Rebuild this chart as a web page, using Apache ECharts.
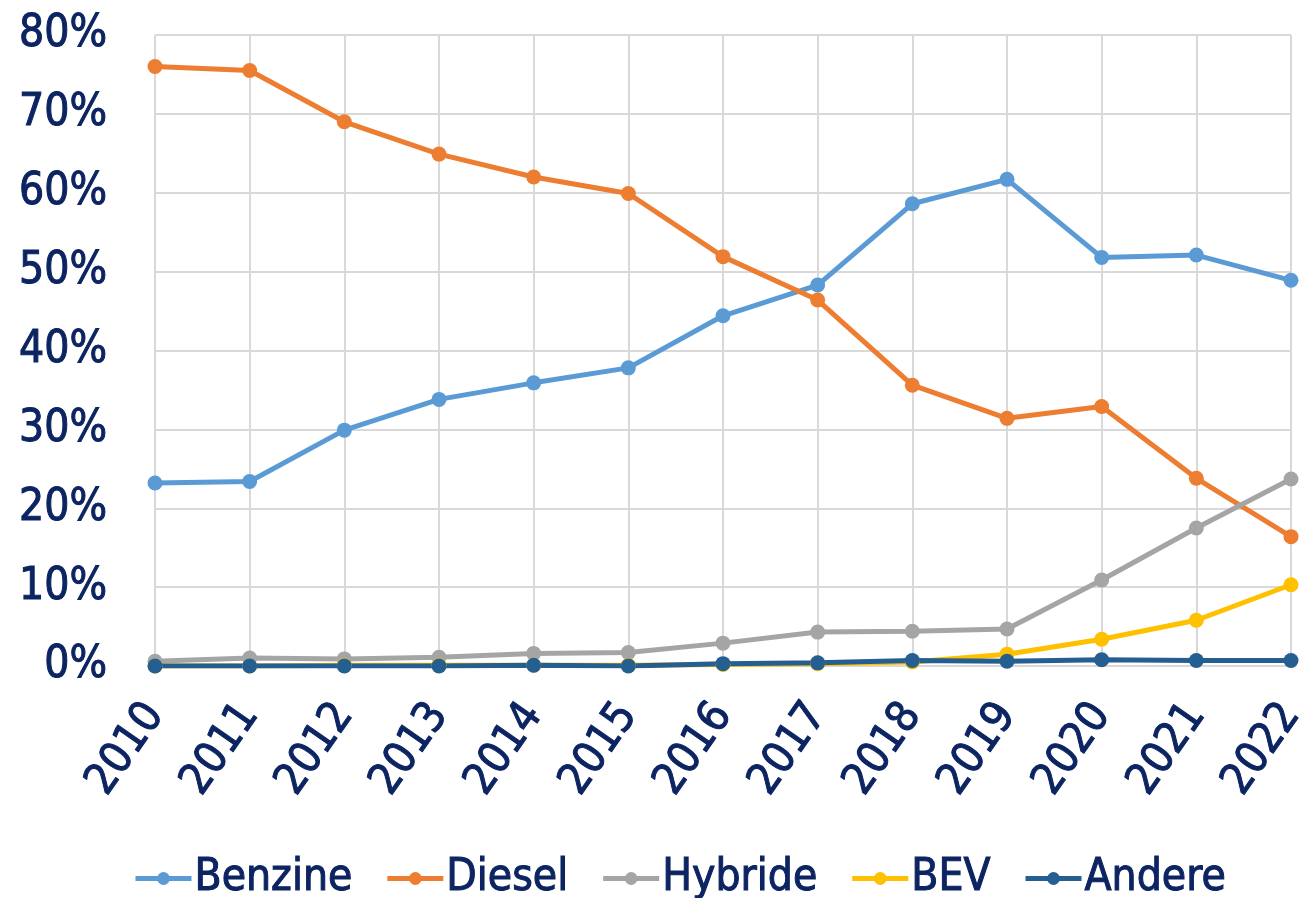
<!DOCTYPE html>
<html>
<head>
<meta charset="utf-8">
<script src="https://cdn.jsdelivr.net/npm/echarts@6/dist/echarts.min.js"></script>
<style>
  html, body { margin: 0; padding: 0; background: #fff; }
  #chart { width: 1304px; height: 898px; }
</style>
</head>
<body>
<div id="chart"></div>
<script>
// years on the x axis
const years = ['2010', '2011', '2012', '2013', '2014', '2015', '2016', '2017', '2018', '2019', '2020', '2021', '2022'];

// share of new cars per fuel type, in %
const benzine = [23.2, 23.4, 29.9, 33.8, 35.9, 37.8, 44.4, 48.3, 58.6, 61.7, 51.8, 52.1, 48.9];
const diesel  = [76.0, 75.5, 69.0, 64.9, 62.0, 59.9, 51.9, 46.4, 35.6, 31.4, 32.9, 23.8, 16.4];
const hybride = [0.6, 1.0, 0.9, 1.1, 1.6, 1.7, 2.9, 4.3, 4.4, 4.7, 10.9, 17.5, 23.7];
const bev     = [0.0, 0.0, 0.1, 0.1, 0.1, 0.1, 0.2, 0.3, 0.5, 1.5, 3.4, 5.8, 10.3];
const andere  = [0.0, 0.0, 0.0, 0.0, 0.1, 0.0, 0.3, 0.4, 0.7, 0.6, 0.8, 0.7, 0.7];

const yTicks = [0, 10, 20, 30, 40, 50, 60, 70, 80];

const textColor = '#0C2461';
const font = '"DejaVu Sans Condensed", "DejaVu Sans", sans-serif';
// a thin outline in the text colour makes the labels a bit heavier
const heavy = { textBorderColor: textColor, textBorderWidth: 1 };

function lineSeries(name, data, color) {
    return {
        name: name,
        type: 'line',
        data: data,
        symbol: 'circle',
        symbolSize: 15,
        lineStyle: { width: 5, color: color },
        itemStyle: { color: color },
        emphasis: { disabled: true },
        animation: false
    };
}

const chart = echarts.init(document.getElementById('chart'));
chart.setOption({
    backgroundColor: '#fff',
    textStyle: { fontFamily: font },
    grid: { left: 155, right: 13, top: 35, bottom: 232, containLabel: false, outerBoundsMode: 'none' },
    legend: {
        top: 851,
        left: 128,
        itemWidth: 56,
        itemHeight: 16,
        itemGap: 32,
        lineStyle: { width: 5 },
        textStyle: Object.assign({ color: textColor, fontSize: 44, fontFamily: font, padding: [0, 0, 0, -2] }, heavy),
        data: ['Benzine', 'Diesel', 'Hybride', 'BEV', 'Andere']
    },
    xAxis: {
        type: 'category',
        data: years,
        boundaryGap: false,
        axisLine: { show: true, lineStyle: { color: '#D9D9D9', width: 2 } },
        axisTick: { show: false },
        splitLine: { show: true, lineStyle: { color: '#D9D9D9', width: 2 } },
        axisLabel: Object.assign({
            rotate: 55,
            margin: 42,
            color: textColor,
            fontSize: 44,
            fontFamily: font,
            interval: 0
        }, heavy)
    },
    yAxis: {
        type: 'value',
        min: yTicks[0],
        max: yTicks[yTicks.length - 1],
        interval: 10,
        axisLine: { show: false },
        axisTick: { show: false },
        splitLine: { lineStyle: { color: '#D9D9D9', width: 2 } },
        axisLabel: Object.assign({
            margin: 48,
            color: textColor,
            fontSize: 44,
            fontFamily: font,
            padding: [0, 0, 6, 0],
            formatter: v => v + '%'
        }, heavy)
    },
    series: [
        lineSeries('Benzine', benzine, '#5B9BD5'),
        lineSeries('Diesel', diesel, '#ED7D31'),
        lineSeries('Hybride', hybride, '#A5A5A5'),
        lineSeries('BEV', bev, '#FFC000'),
        lineSeries('Andere', andere, '#255E91')
    ]
});
</script>
</body>
</html>
